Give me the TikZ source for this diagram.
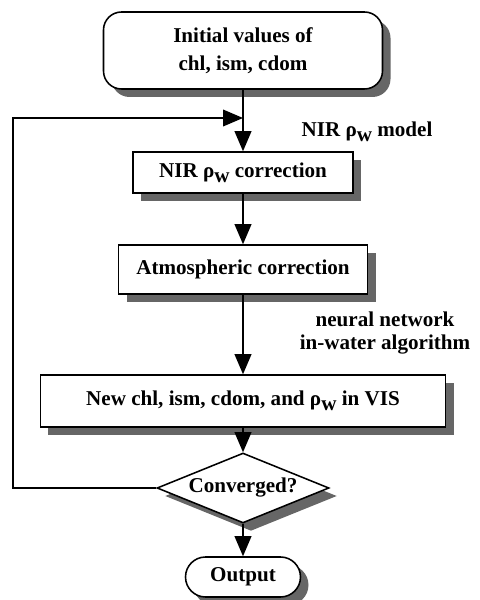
\documentclass[tikz,border=0pt]{standalone}
\usepackage{fontspec}
\setmainfont{Liberation Serif}
\usetikzlibrary{shapes.geometric,shadows,arrows.meta}
\definecolor{shadowgray}{RGB}{102,102,102}
\newcommand{\rhow}{ρ\lower0.5ex\hbox{w}}

\begin{document}
\begin{tikzpicture}[
	font=\bfseries\fontsize{15}{20}\selectfont,
	box/.style = {draw, line width=1.1pt, fill=white, align=center, inner sep=0pt,
		drop shadow={shadow xshift=.2cm, shadow yshift=-.2cm, fill=shadowgray, opacity=1}},
	flow/.style = {line width=.9pt, -{Triangle[length=.5cm, width=.42cm]}},
	note/.style = {align=center, font=\bfseries\fontsize{15}{16}\selectfont}
]
	\useasboundingbox (0,0) rectangle (12,15);
	\node [box, rounded corners=.45cm, minimum width=6.975cm, minimum height=1.925cm] (init) at (6.075,13.7375) {Initial values of\\chl, ism, cdom};
	\node [box, minimum width=5.5cm, minimum height=1.025cm] (nir) at (6.075,10.6875) {NIR \rhow{} correction};
	\node [box, minimum width=6.225cm, minimum height=1.225cm] (atm) at (6.075,8.2625) {Atmospheric correction};
	\node [box, minimum width=10.125cm, minimum height=1.3cm] (new) at (6.075,4.975) {New chl, ism, cdom, and \rhow{} in VIS};
	\node [box, diamond, shape aspect=2.46, minimum width=4.3cm, minimum height=1.75cm] (conv) at (6.075,2.8) {Converged?};
	\node [box, rounded corners=.5cm, minimum width=2.875cm, minimum height=1cm] (out) at (6.075,.575) {Output};
	\node [note] (nirlbl) at (9.175,11.7) {NIR \rhow{} model};
	\node [note] (nnlbl) at (9.625,6.675) {neural network\\in-water algorithm};
	\coordinate (back) at (.325,2.8);
	\coordinate (join) at (6.075,12.05);
	\draw [flow] (init) -- (nir);
	\draw [flow] (nir) -- (atm);
	\draw [flow] (atm) -- (new);
	\draw [flow] (new) -- (conv);
	\draw [flow] (conv) -- (out);
	\draw [flow] (conv.west) -- (back) |- (join);
\end{tikzpicture}
\end{document}
